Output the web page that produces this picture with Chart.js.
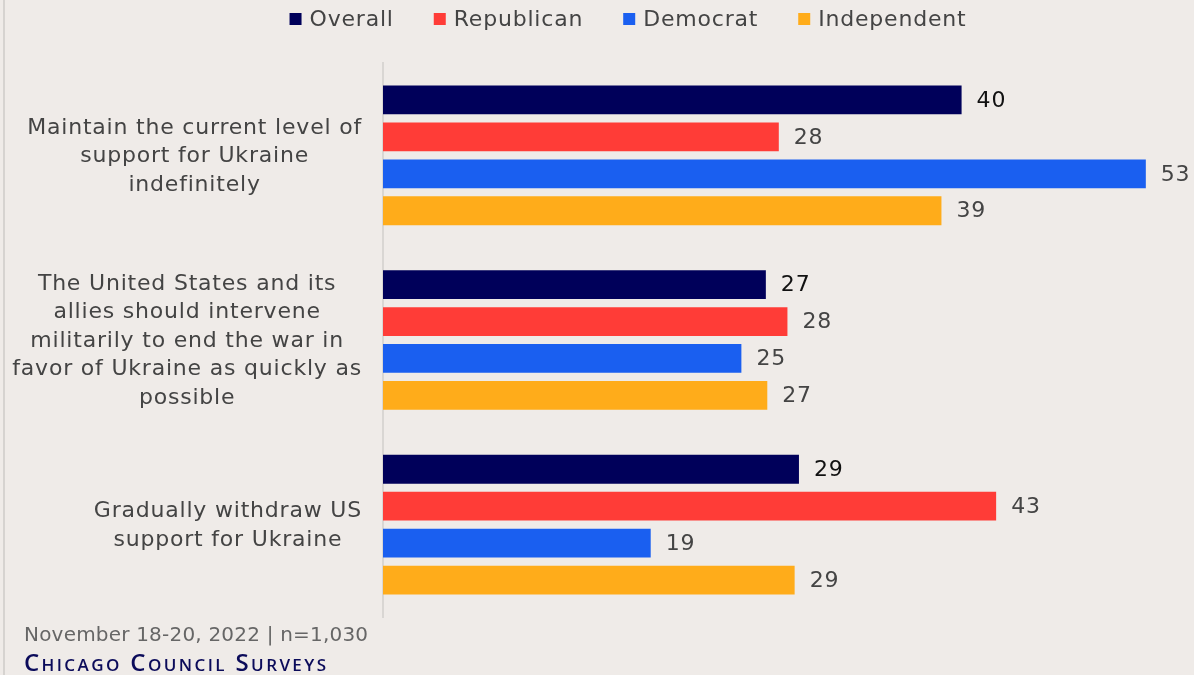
<!DOCTYPE html>
<html>
<head>
<meta charset="utf-8">
<script src="https://cdn.jsdelivr.net/npm/chart.js@4"></script>
<style>
  html, body { margin: 0; padding: 0; background: #efebe8; }
  #wrap { position: relative; width: 1194px; height: 675px; overflow: hidden; }
  #edge { position: absolute; left: 3px; top: 0; width: 2px; height: 675px; background: #d6d3d0; }
  #note { position: absolute; left: 24px; top: 622px; font: 20px "DejaVu Sans", sans-serif; color: #666;
          letter-spacing: 0.2px; }
  #brand { position: absolute; left: 24px; top: 645px; font: 600 24px "Open Sans", sans-serif;
           color: #0b0b5a; font-variant: small-caps; letter-spacing: 2.4px; }
</style>
</head>
<body>
<div id="wrap">
  <canvas id="chart" width="1194" height="675"></canvas>
  <div id="edge"></div>
  <div id="note">November 18-20, 2022 | n=1,030</div>
  <div id="brand">Chicago Council Surveys</div>
</div>
<script>
// categories (one label per option, split into lines)
const categories = [
  ['Maintain the current level of', 'support for Ukraine', 'indefinitely'],
  ['The United States and its', 'allies should intervene', 'militarily to end the war in', 'favor of Ukraine as quickly as', 'possible'],
  ['Gradually withdraw US', 'support for Ukraine']
];
const seriesNames = ['Overall', 'Republican', 'Democrat', 'Independent'];
const overall     = [40.2, 26.6, 28.9];
const republican  = [27.5, 28.1, 42.6];
const democrat    = [53.0, 24.9, 18.6];
const independent = [38.8, 26.7, 28.6];
const colors = ['#00005a', '#ff3c37', '#1a5ff0', '#ffac1a'];
const labelColors = ['#111111', '#444444', '#444444', '#444444'];

const FONT = '"DejaVu Sans", sans-serif';
const SPACING = '0.8px';

// value labels, category labels (right-aligned blocks, centred lines) and legend row
const decorations = {
  id: 'decorations',
  afterDatasetsDraw(chart) {
    const ctx = chart.ctx;
    ctx.save();
    ctx.letterSpacing = SPACING;
    ctx.font = '22px ' + FONT;
    ctx.textBaseline = 'middle';
    ctx.textAlign = 'left';
    chart.data.datasets.forEach((ds, i) => {
      chart.getDatasetMeta(i).data.forEach((bar, j) => {
        ctx.fillStyle = labelColors[i];
        ctx.fillText(Math.round(ds.data[j]), bar.x + 15, bar.y + 1);
      });
    });

    // category labels
    const y = chart.scales.y;
    const right = y.right - 21, lineH = 28.5;
    ctx.fillStyle = '#444';
    ctx.textAlign = 'center';
    chart.data.labels.forEach((lines, i) => {
      const w = Math.max(...lines.map(l => ctx.measureText(l).width));
      const cx = right - w / 2;
      const cy = y.getPixelForTick(i);
      lines.forEach((l, k) => {
        ctx.fillText(l, cx, cy + (k - (lines.length - 1) / 2) * lineH + 1);
      });
    });
    ctx.restore();
  },
  afterDraw(chart) {
    const ctx = chart.ctx;
    ctx.save();
    ctx.letterSpacing = SPACING;
    ctx.font = '22px ' + FONT;
    ctx.textBaseline = 'middle';
    ctx.textAlign = 'left';
    const box = 12, gap = 8, between = 40, cy = 19;
    const items = chart.data.datasets.map(ds => ({ text: ds.label, color: ds.backgroundColor, w: ctx.measureText(ds.label).width }));
    const total = items.reduce((s, it) => s + box + gap + it.w, 0) + between * (items.length - 1);
    let x = 628 - total / 2;
    items.forEach(it => {
      ctx.fillStyle = it.color;
      ctx.fillRect(x, cy - box / 2, box, box);
      x += box + gap;
      ctx.fillStyle = '#444';
      ctx.fillText(it.text, x, cy + 1);
      x += it.w + between;
    });
    ctx.restore();
  }
};

new Chart(document.getElementById('chart'), {
  type: 'bar',
  data: {
    labels: categories,
    datasets: [overall, republican, democrat, independent].map((d, i) => ({
      label: seriesNames[i],
      data: d,
      backgroundColor: colors[i],
      categoryPercentage: 0.8,
      barPercentage: 0.78
    }))
  },
  options: {
    indexAxis: 'y',
    responsive: false,
    animation: false,
    layout: { padding: { left: 0, right: 5, top: 63, bottom: 58 } },
    plugins: {
      legend: { display: false },
      tooltip: { enabled: false }
    },
    scales: {
      x: {
        min: 0, max: 56,
        display: false
      },
      y: {
        grid: { display: false, drawTicks: false },
        border: { display: true, color: '#d9d6d3', width: 2 },
        ticks: { display: false },
        afterFit(scale) { scale.width = 383; }
      }
    }
  },
  plugins: [decorations]
});
</script>
</body>
</html>
